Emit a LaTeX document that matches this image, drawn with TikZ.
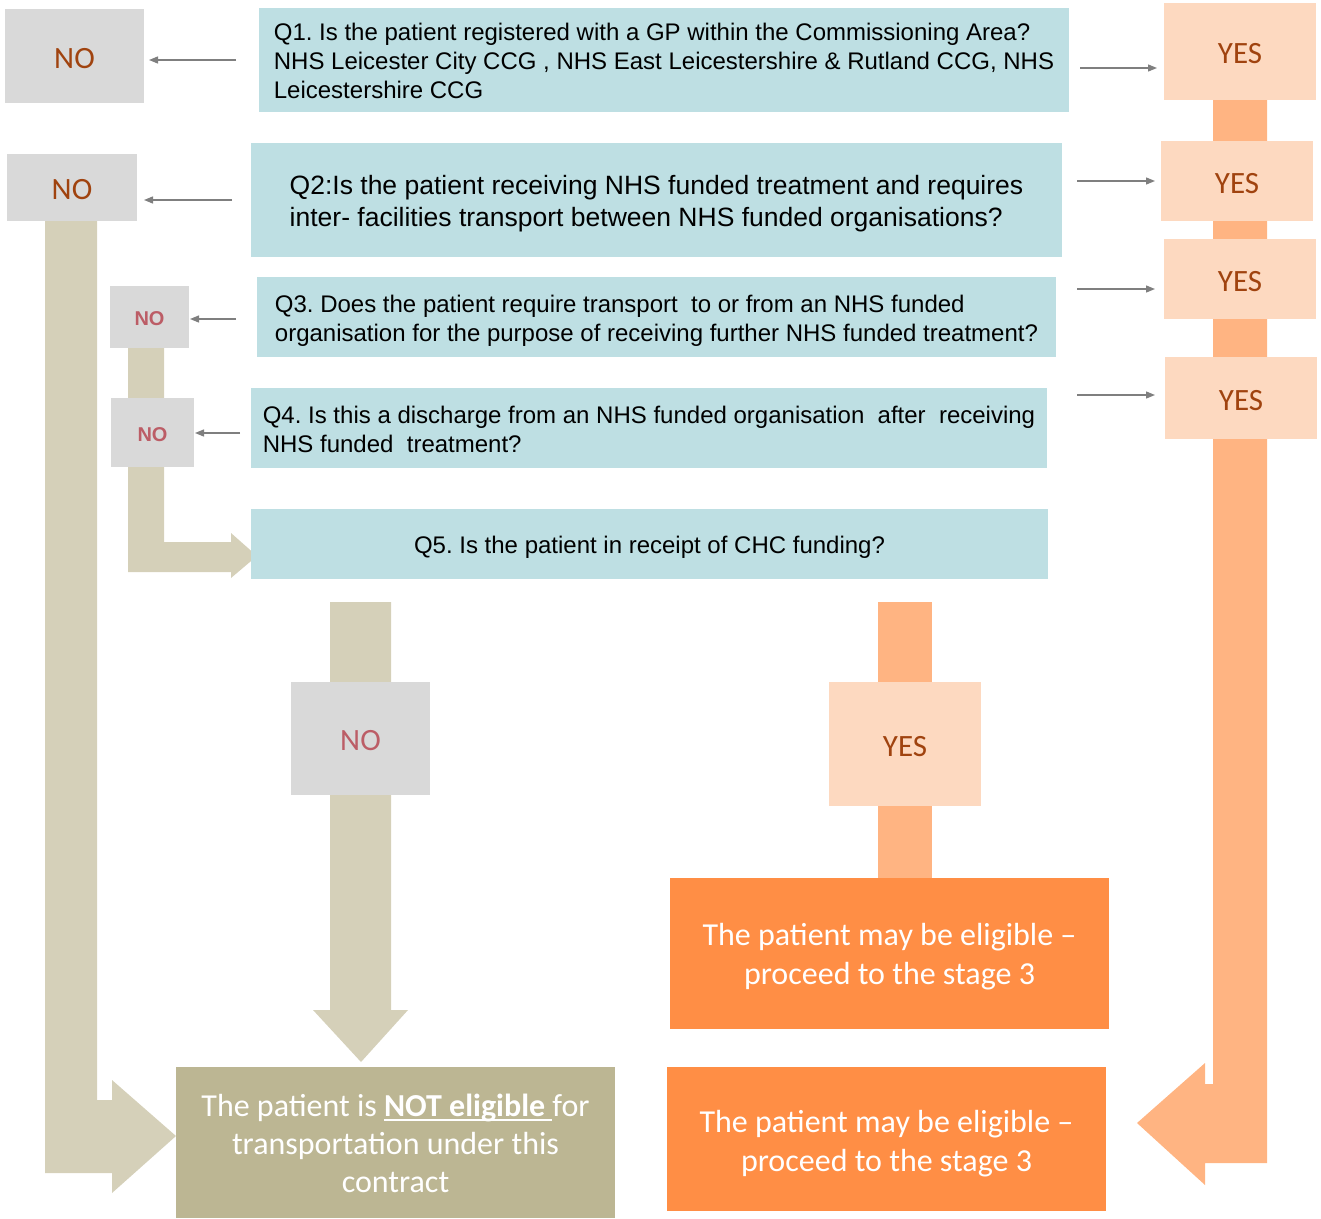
\documentclass[tikz,border=0pt]{standalone}
\usepackage{fontspec}
\setmainfont{Carlito}
\newfontfamily\arialf{Liberation Sans}
\usetikzlibrary{arrows.meta}
\definecolor{gbox}{HTML}{D9D9D9}
\definecolor{qblue}{HTML}{BEDFE3}
\definecolor{peach}{HTML}{FDD9C0}
\definecolor{obar}{HTML}{FFB482}
\definecolor{obox}{HTML}{FF8E45}
\definecolor{tbar}{HTML}{D5D0B9}
\definecolor{tbox}{HTML}{BCB693}
\definecolor{dorange}{HTML}{A0430F}
\definecolor{rose}{HTML}{BC5D66}
\definecolor{agray}{HTML}{7F7F7F}
\frenchspacing
\newcommand{\thickul}[1]{\setbox0\hbox{#1}\leavevmode\rlap{\rule[-4.5pt]{\wd0}{1.8pt}}\box0}
\begin{document}
\begin{tikzpicture}[x=1pt,y=-1pt,
  box/.style={inner sep=0pt, outer sep=0pt, draw=none},
  lbl/.style={text height=24pt, text depth=0pt},
  nobox/.style={box, lbl, fill=gbox, text=dorange, font=\fontsize{31}{37}\selectfont},
  yesbox/.style={box, lbl, fill=peach, text=dorange, font=\fontsize{31}{37}\selectfont},
  smallno/.style={box, fill=gbox, text=rose, text height=17pt, text depth=0pt, font=\arialf\bfseries\fontsize{20}{24}\selectfont},
  qbox/.style={box, fill=qblue},
  qtext/.style={inner sep=0pt, align=left, font=\arialf\fontsize{24}{29}\selectfont},
  outbox/.style={box, fill=obox},
  outtext/.style={inner sep=0pt, text=white, align=center, font=\fontsize{32}{39}\selectfont},
  garrow/.style={draw=agray, line width=1.3pt, -{Triangle[length=9pt,width=7pt]}}
]
\useasboundingbox (0,0) rectangle (1321,1218);

% block arrows / bars
\fill[obar] (1213,100) -- (1267,100) -- (1267,1163) -- (1205,1163) -- (1205,1185) -- (1137,1123) -- (1205,1063) -- (1205,1084) -- (1213,1084) -- cycle;
\fill[tbar] (45,221) -- (97,221) -- (97,1100) -- (112,1100) -- (112,1080) -- (176,1136) -- (112,1193) -- (112,1173) -- (45,1173) -- cycle;
\fill[tbar] (128,348) -- (164,348) -- (164,542) -- (231,542) -- (231,533) -- (257,556) -- (231,578) -- (231,572) -- (128,572) -- cycle;
\fill[tbar] (330,602) -- (391,602) -- (391,1010) -- (408,1010) -- (361,1062) -- (313,1010) -- (330,1010) -- cycle;
\fill[obar] (878,602) rectangle (932,878);

% boxes
\node[nobox, minimum width=139, minimum height=94] (no1) at (74.5,56) {NO};
\node[yesbox, minimum width=152, minimum height=97] (yes1) at (1240,51.5) {YES};
\node[qbox, minimum width=810, minimum height=104] (q1) at (664,60) {};
\node[qtext] (q1t) at ([yshift=-1pt]q1.center) {Q1. Is the patient registered with a GP within the Commissioning Area?\\NHS Leicester City CCG , NHS East Leicestershire \& Rutland CCG, NHS\\Leicestershire CCG};

\node[nobox, minimum width=130, minimum height=67] (no2) at (72,187.5) {NO};
\node[qbox, minimum width=811, minimum height=114] (q2) at (656.5,200) {};
\node[qtext, font=\arialf\fontsize{26.5}{32}\selectfont] (q2t) at ([yshift=-4pt]q2.center) {Q2:Is the patient receiving NHS funded treatment and requires\\inter- facilities transport between NHS funded organisations?};
\node[yesbox, minimum width=152, minimum height=80] (yes2) at (1237,181) {YES};

\node[smallno, minimum width=79, minimum height=62] (no3) at (149.5,317) {NO};
\node[qbox, minimum width=799, minimum height=80] (q3) at (656.5,317) {};
\node[qtext] (q3t) at ([yshift=-4pt]q3.center) {Q3. Does the patient require transport\ \ to or from an NHS funded\\organisation for the purpose of receiving further NHS funded treatment?};
\node[yesbox, minimum width=152, minimum height=80] (yes3) at (1240,279) {YES};

\node[smallno, minimum width=83, minimum height=69] (no4) at (152.5,432.5) {NO};
\node[qbox, minimum width=796, minimum height=80] (q4) at (649,428) {};
\node[qtext] (q4t) at ([yshift=-1pt]q4.center) {Q4. Is this a discharge from an NHS funded organisation\ \ after\ \ receiving\\NHS funded\ \ treatment?};
\node[yesbox, minimum width=152, minimum height=82] (yes4) at (1241,398) {YES};

\node[qbox, minimum width=797, minimum height=70] (q5) at (649.5,544) {};
\node[qtext] (q5t) at ([yshift=-3pt]q5.center) {Q5. Is the patient in receipt of CHC funding?};

\node[nobox, text=rose, minimum width=139, minimum height=113] (no5) at (360.5,738.5) {NO};
\node[yesbox, minimum width=152, minimum height=124] (yes5) at (905,744) {YES};

\node[outbox, minimum width=439, minimum height=151] (out1) at (889.5,953.5) {};
\node[outtext] (out1t) at ([yshift=-3pt]out1.center) {The patient may be eligible --\\proceed to the stage 3};
\node[outbox, minimum width=439, minimum height=144] (out2) at (886.5,1139) {};
\node[outtext] (out2t) at ([yshift=-4.5pt]out2.center) {The patient may be eligible --\\proceed to the stage 3};
\node[outbox, fill=tbox, minimum width=439, minimum height=151] (note) at (395.5,1142.5) {};
\node[outtext, font=\fontsize{32}{38}\selectfont] (notet) at ([yshift=-1pt]note.center) {The patient is \thickul{\textbf{NOT eligible}\ }for\\transportation under this\\contract};

% connectors
\draw[garrow, shorten <=23pt, shorten >=5pt] (q1.west) -- (q1.west -| no1.east);
\draw[garrow, shorten <=11pt, shorten >=7pt] ([yshift=-8pt]q1.east) -- ([yshift=-8pt]q1.east -| yes1.west);
\draw[garrow, shorten <=19pt, shorten >=7pt] (q2.west) -- (q2.west -| no2.east);
\draw[garrow, shorten <=15pt, shorten >=6pt] ([yshift=19pt]q2.east) -- ([yshift=19pt]q2.east -| yes2.west);
\draw[garrow, shorten <=21pt, shorten >=1pt] ([yshift=-2pt]q3.west) -- ([yshift=-2pt]q3.west -| no3.east);
\draw[garrow, shorten <=21pt, shorten >=9pt] ([yshift=28pt]q3.east) -- ([yshift=28pt]q3.east -| yes3.west);
\draw[garrow, shorten <=11pt, shorten >=1pt] ([yshift=-5pt]q4.west) -- ([yshift=-5pt]q4.west -| no4.east);
\draw[garrow, shorten <=30pt, shorten >=10pt] ([yshift=33pt]q4.east) -- ([yshift=33pt]q4.east -| yes4.west);
\end{tikzpicture}
\end{document}
